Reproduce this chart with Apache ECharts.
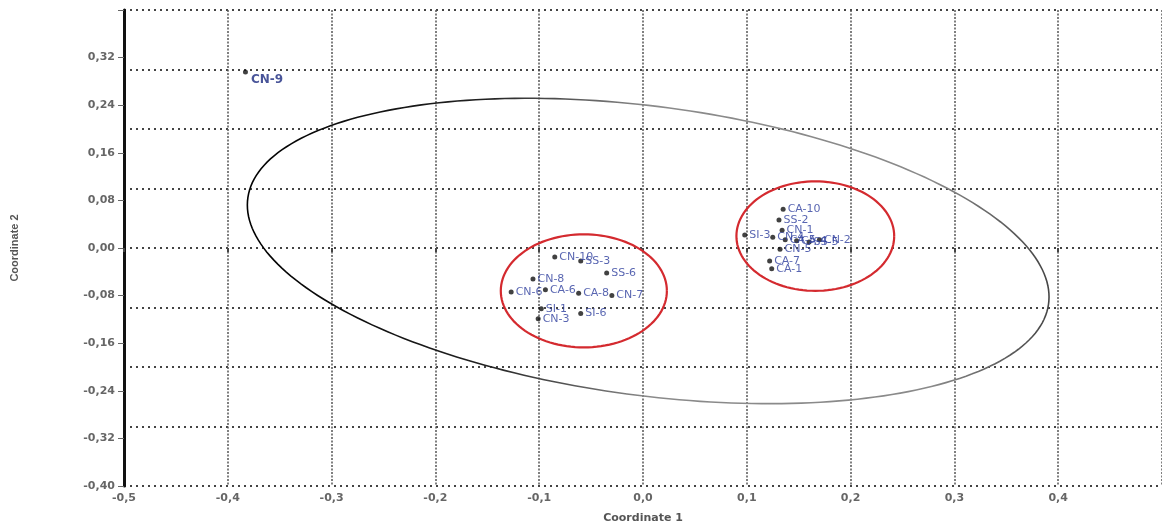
<!DOCTYPE html>
<html>
<head>
<meta charset="utf-8">
<script src="https://cdn.jsdelivr.net/npm/echarts@6/dist/echarts.min.js"></script>
<style>
  html, body { margin: 0; padding: 0; background: #ffffff; }
  #chart { width: 1162px; height: 529px; }
</style>
</head>
<body>
<div id="chart"></div>
<script>
// ---- data ----
const pointNames = [
  'CN-9',
  'CN-10', 'SS-3', 'SS-6', 'CN-8', 'CN-6', 'CA-6', 'CA-8', 'CN-7', 'SI-1', 'SI-6', 'CN-3',
  'CA-10', 'SS-2', 'CN-1', 'SI-3', 'CN-4', 'CA-5', 'CA-4', 'SS-5', 'CN-2', 'CN-5', 'CA-7', 'CA-1'
];
const coord1 = [
  -0.383,
  -0.085, -0.060, -0.035, -0.106, -0.127, -0.094, -0.062, -0.030, -0.098, -0.060, -0.101,
  0.135, 0.131, 0.134, 0.098, 0.125, 0.137, 0.148, 0.160, 0.170, 0.132, 0.122, 0.124
];
const coord2 = [
  0.296,
  -0.015, -0.022, -0.042, -0.052, -0.074, -0.070, -0.076, -0.080, -0.102, -0.110, -0.119,
  0.065, 0.047, 0.030, 0.022, 0.018, 0.014, 0.012, 0.010, 0.014, -0.002, -0.022, -0.035
];
// confidence ellipse: centre and two conjugate semi-diameters (data units)
const ellipseCenter = [0.005, -0.005];
const ellipseSemiU = [0.385, -0.058];
const ellipseSemiV = [-0.03, 0.25];
// red cluster rings: centre x, centre y, radius x, radius y (data units)
const ringCenterX = [-0.057, 0.166];
const ringCenterY = [-0.072, 0.020];
const ringRadiusX = [0.080, 0.076];
const ringRadiusY = [0.095, 0.092];

const chart = echarts.init(document.getElementById('chart'));

const scatterData = pointNames.map((n, i) => ({ name: n, value: [coord1[i], coord2[i]] }));
const ringData = ringCenterX.map((c, i) => [c, ringCenterY[i], ringRadiusX[i], ringRadiusY[i]]);

function fmtY(v) {
  if (Math.abs(v - 0.4) < 1e-6) return '';
  let s = Math.abs(v).toFixed(2).replace('.', ',');
  return (v < -1e-9 ? '-' : '') + s;
}
function fmtX(v) {
  let s = Math.abs(v).toFixed(1).replace('.', ',');
  return (v < -1e-9 ? '-' : '') + s;
}

const labelFont = { color: '#666', fontWeight: 'bold', fontSize: 11, fontFamily: 'DejaVu Sans' };

chart.setOption({
  animation: false,
  backgroundColor: '#ffffff',
  grid: { left: 124, right: -2, top: 10, bottom: 41, containLabel: false },
  xAxis: [{
    type: 'value', min: -0.5, max: 0.5, interval: 0.1,
    name: 'Coordinate 1', nameLocation: 'middle', nameGap: 27,
    nameTextStyle: { color: '#555', fontWeight: 'bold', fontSize: 11, fontFamily: 'DejaVu Sans' },
    axisLine: { show: false },
    axisTick: { show: true, length: 4, inside: false, lineStyle: { color: '#444', width: 2 } },
    axisLabel: Object.assign({ formatter: fmtX, margin: 7, showMaxLabel: false }, labelFont),
    splitLine: { show: true, lineStyle: { color: '#555', width: 1.5, type: [2, 1.5] } }
  }],
  yAxis: [{
    type: 'value', min: -0.4, max: 0.4, interval: 0.08,
    name: 'Coordinate 2', nameLocation: 'middle', nameGap: 104, nameRotate: 90,
    nameTextStyle: { color: '#555', fontSize: 11, fontWeight: 'bold', fontFamily: 'Liberation Sans' },
    axisLine: { show: true, onZero: false, lineStyle: { color: '#111', width: 3 } },
    axisTick: { show: true, length: 6, lineStyle: { color: '#666', width: 1 } },
    axisLabel: Object.assign({ formatter: fmtY, margin: 9 }, labelFont),
    splitLine: { show: false }
  }, {
    type: 'value', min: -0.4, max: 0.4, interval: 0.1, position: 'left',
    axisLine: { show: false }, axisTick: { show: false }, axisLabel: { show: false },
    splitLine: { show: true, lineStyle: { color: '#444', width: 2, type: [2, 4] } }
  }],
  series: [
    {
      type: 'custom',
      coordinateSystem: 'cartesian2d',
      silent: true,
      z: 3,
      data: [[ellipseCenter[0], ellipseCenter[1]]],
      renderItem: function (params, api) {
        const pts = [];
        const n = 240;
        for (let k = 0; k <= n; k++) {
          const t = (k / n) * Math.PI * 2;
          const x = ellipseCenter[0] + ellipseSemiU[0] * Math.cos(t) + ellipseSemiV[0] * Math.sin(t);
          const y = ellipseCenter[1] + ellipseSemiU[1] * Math.cos(t) + ellipseSemiV[1] * Math.sin(t);
          pts.push(api.coord([x, y]));
        }
        return {
          type: 'polyline',
          shape: { points: pts },
          style: {
            fill: null,
            lineWidth: 1.6,
            stroke: new echarts.graphic.LinearGradient(0, 0, 1, 0, [
              { offset: 0, color: '#000' },
              { offset: 0.3, color: '#222' },
              { offset: 0.5, color: '#8a8a8a' },
              { offset: 0.85, color: '#8a8a8a' },
              { offset: 1, color: '#444' }
            ])
          }
        };
      }
    },
    {
      type: 'custom',
      coordinateSystem: 'cartesian2d',
      silent: true,
      z: 4,
      data: ringData,
      renderItem: function (params, api) {
        const cx = api.value(0), cy = api.value(1), rx = api.value(2), ry = api.value(3);
        const pts = [];
        const n = 120;
        for (let k = 0; k <= n; k++) {
          const t = (k / n) * Math.PI * 2;
          pts.push(api.coord([cx + rx * Math.cos(t), cy + ry * Math.sin(t)]));
        }
        return {
          type: 'polyline',
          shape: { points: pts },
          style: { fill: null, stroke: '#d42a2f', lineWidth: 2.2 }
        };
      }
    },
    {
      type: 'scatter',
      z: 5,
      symbol: 'circle',
      symbolSize: 5,
      itemStyle: { color: '#111' },
      data: scatterData.slice(0, 1),
      label: {
        show: true,
        position: 'right',
        distance: 3,
        offset: [0, 8],
        formatter: '{b}',
        color: '#1c2a80',
        fontSize: 12,
        fontWeight: 'bold',
        fontFamily: 'DejaVu Sans'
      }
    },
    {
      type: 'scatter',
      z: 5,
      symbol: 'circle',
      symbolSize: 5,
      itemStyle: { color: '#111' },
      data: scatterData.slice(1),
      label: {
        show: true,
        position: 'right',
        distance: 2,
        offset: [0, 4],
        formatter: '{b}',
        color: '#2e3f9e',
        fontSize: 11,
        fontFamily: 'DejaVu Sans'
      },
      labelLayout: { hideOverlap: false }
    }
  ]
});
</script>
</body>
</html>
